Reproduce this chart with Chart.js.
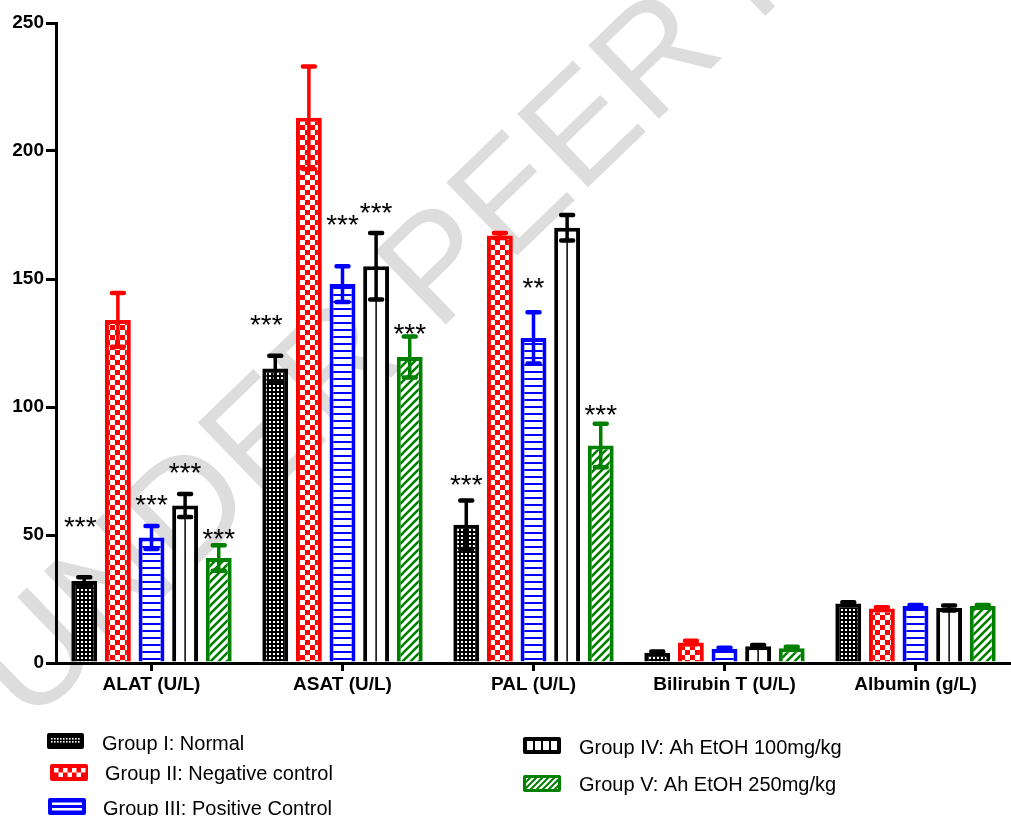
<!DOCTYPE html>
<html>
<head>
<meta charset="utf-8">
<script src="https://cdn.jsdelivr.net/npm/chart.js@4.4.1/dist/chart.umd.min.js"></script>
<style>
  html, body { margin: 0; padding: 0; background: #fff; overflow: hidden; }
  #wrap { width: 1011px; height: 816px; position: relative; }
</style>
</head>
<body>
<div id="wrap"><canvas id="chart" width="1011" height="816"></canvas></div>
<script>
// Serum markers per treatment group (mean and SEM)
const categories = ['ALAT (U/L)', 'ASAT (U/L)', 'PAL (U/L)', 'Bilirubin T (U/L)', 'Albumin (g/L)'];
const groupLabels = [
  'Group I: Normal',
  'Group II: Negative control',
  'Group III: Positive Control',
  'Group IV: Ah EtOH 100mg/kg',
  'Group V: Ah EtOH 250mg/kg'
];

const meanI   = [32,   115,   54,   4,   23.2];
const meanII  = [134,  213,   167,  8,   21.3];
const meanIII = [49,   148,   127,  5.5, 22.3];
const meanIV  = [61.5, 155,   170,  6.5, 21.5];
const meanV   = [41,   119.5, 85,   5.8, 22.3];

const semI   = [1.5,  5,   9.5, 0.5, 0.5];
const semII  = [10.5, 20,  1,   0.7, 0.5];
const semIII = [4.5,  7,   10,  0.5, 0.4];
const semIV  = [4.5,  13,  5,   0.5, 1];
const semV   = [5,    8,   8.5, 0.5, 0.4];

// significance vs. negative control
const marksI   = ['***', '***', '***', '', ''];
const marksII  = ['', '', '', '', ''];
const marksIII = ['***', '***', '**', '', ''];
const marksIV  = ['***', '***', '', '', ''];
const marksV   = ['***', '***', '***', '', ''];

const yTicks = [0, 50, 100, 150, 200, 250];

// ---- fill patterns ----
function tile(w, h, paint) {
  const c = document.createElement('canvas');
  c.width = w; c.height = h;
  paint(c.getContext('2d'), w, h);
  return c;
}
const ctx0 = document.getElementById('chart').getContext('2d');

const dotTile = tile(4, 4, (g) => {
  g.fillStyle = '#000'; g.fillRect(0, 0, 4, 4);
  g.fillStyle = '#fff'; g.fillRect(1, 1, 2, 2);
});
const checkTile = tile(10, 10, (g) => {
  g.fillStyle = '#ff0000'; g.fillRect(0, 0, 10, 10);
  g.fillStyle = '#fff'; g.fillRect(0, 0, 5, 5); g.fillRect(5, 5, 5, 5);
});
const hLineTile = tile(4, 7, (g) => {
  g.fillStyle = '#fff'; g.fillRect(0, 0, 4, 7);
  g.fillStyle = '#0000ff'; g.fillRect(0, 0, 4, 2);
});
const hatchTile = tile(8, 8, (g) => {
  g.fillStyle = '#fff'; g.fillRect(0, 0, 8, 8);
  g.strokeStyle = '#008000'; g.lineWidth = 2.6;
  g.beginPath();
  g.moveTo(-2, 10); g.lineTo(10, -2);
  g.moveTo(-6, 6); g.lineTo(6, -6);
  g.moveTo(2, 14); g.lineTo(14, 2);
  g.stroke();
});

const fills = [
  ctx0.createPattern(dotTile, 'repeat'),
  ctx0.createPattern(checkTile, 'repeat'),
  ctx0.createPattern(hLineTile, 'repeat'),
  '#ffffff',
  ctx0.createPattern(hatchTile, 'repeat')
];
const edgeColors = ['#000000', '#ff0000', '#0000ff', '#000000', '#008000'];

const means = [meanI, meanII, meanIII, meanIV, meanV];
const sems = [semI, semII, semIII, semIV, semV];
const marks = [marksI, marksII, marksIII, marksIV, marksV];

const datasets = means.map((m, i) => ({
  label: groupLabels[i],
  data: m,
  sem: sems[i],
  marks: marks[i],
  centerLine: i === 3,
  backgroundColor: fills[i],
  borderColor: edgeColors[i],
  borderWidth: 4,
  borderSkipped: 'start',
  categoryPercentage: 0.88,
  barPercentage: 0.77
}));

const FONT = '"Liberation Sans", Arial, Helvetica, sans-serif';

// light diagonal review stamp behind the plot
const stampPlugin = {
  id: 'stamp',
  beforeDraw(chart) {
    const ctx = chart.ctx;
    ctx.save();
    ctx.translate(29, 727);
    ctx.rotate(-44 * Math.PI / 180);
    ctx.font = '148px ' + FONT;
    ctx.fillStyle = '#dddddd';
    ctx.textBaseline = 'alphabetic';
    ctx.fillText('UNDER PEER REVIEW', 0, 0);
    ctx.restore();
  }
};

// error bars, centre rule of group IV bars and significance stars
const annotatePlugin = {
  id: 'annotate',
  afterDatasetsDraw(chart, args, opts) {
    const ctx = chart.ctx;
    const ys = chart.scales.y;
    chart.data.datasets.forEach((ds, i) => {
      const meta = chart.getDatasetMeta(i);
      meta.data.forEach((bar, j) => {
        const v = ds.data[j];
        const e = ds.sem[j];
        const x = bar.x;
        ctx.save();
        ctx.strokeStyle = ds.borderColor;
        if (ds.centerLine) {
          ctx.lineWidth = 1.5;
          ctx.beginPath();
          ctx.moveTo(x, bar.base);
          ctx.lineTo(x, bar.y);
          ctx.stroke();
        }
        const top = ys.getPixelForValue(v + e);
        const bot = ys.getPixelForValue(v - e);
        ctx.lineCap = 'round';
        ctx.lineWidth = 3.5;
        ctx.beginPath();
        ctx.moveTo(x, top); ctx.lineTo(x, bot);
        ctx.stroke();
        ctx.lineWidth = 4.5;
        ctx.beginPath();
        ctx.moveTo(x - 6, top); ctx.lineTo(x + 6, top);
        ctx.moveTo(x - 6, bot); ctx.lineTo(x + 6, bot);
        ctx.stroke();
        ctx.restore();

        const mk = ds.marks[j];
        if (mk) {
          const lift = opts.lift[i][j];
          const dx = opts.shift[i][j];
          const size = 28;
          ctx.save();
          ctx.font = size + 'px ' + FONT;
          ctx.fillStyle = '#000';
          ctx.textAlign = 'center';
          ctx.textBaseline = 'alphabetic';
          ctx.fillText(mk, x + dx, top - lift + 0.575 * size);
          ctx.restore();
        }
      });
    });
  }
};

// legend laid out in two columns under the axis
function swatch(ctx, i, x, y, w, h) {
  ctx.save();
  ctx.beginPath();
  ctx.roundRect(x, y, w, h, 2);
  ctx.fillStyle = edgeColors[i];
  ctx.fill();
  ctx.clip();
  ctx.fillStyle = '#fff';
  if (i === 0) {
    for (let px = x + 4; px < x + w - 4; px += 3) {
      for (let py = y + 5; py < y + h - 5; py += 3) {
        ctx.fillRect(px, py, 1.6, 1.6);
      }
    }
  } else if (i === 1) {
    const cell = 4.5;
    for (let c = 0; c < 7; c++) {
      for (let r = 0; r < 2; r++) {
        if ((c + r) % 2 === 0) ctx.fillRect(x + 4 + c * cell, y + 4 + r * cell, cell, cell);
      }
    }
  } else if (i === 2) {
    ctx.fillRect(x + 4, y + 4.5, w - 8, 2.5);
    ctx.fillRect(x + 4, y + 10, w - 8, 2.5);
  } else if (i === 3) {
    const inner = w - 8;
    const cw = (inner - 3 * 2) / 4;
    for (let c = 0; c < 4; c++) ctx.fillRect(x + 4 + c * (cw + 2), y + 4, cw, h - 8);
  } else {
    ctx.beginPath();
    ctx.rect(x + 3, y + 3, w - 6, h - 6);
    ctx.clip();
    ctx.strokeStyle = '#fff';
    ctx.lineWidth = 2.2;
    ctx.beginPath();
    for (let px = x - 10; px < x + w + 10; px += 6) {
      ctx.moveTo(px, y + h); ctx.lineTo(px + h, y);
    }
    ctx.stroke();
  }
  ctx.restore();
}

const legendPlugin = {
  id: 'groupLegend',
  afterDraw(chart, args, opts) {
    const ctx = chart.ctx;
    opts.items.forEach((it, i) => {
      swatch(ctx, i, it.bx, it.by, it.bw, it.bh);
      ctx.save();
      ctx.font = '20px ' + FONT;
      ctx.fillStyle = '#000';
      ctx.textBaseline = 'alphabetic';
      ctx.fillText(chart.data.datasets[i].label, it.tx, it.ty + 7.2);
      ctx.restore();
    });
  }
};

new Chart(document.getElementById('chart'), {
  type: 'bar',
  data: { labels: categories, datasets },
  plugins: [stampPlugin, annotatePlugin, legendPlugin],
  options: {
    responsive: false,
    animation: false,
    layout: { padding: { top: 23, left: 0, right: 0, bottom: 0 } },
    plugins: {
      legend: { display: false },
      tooltip: { enabled: false },
      annotate: {
        lift: [
          [57, 38, 23, 0, 0],
          [0, 0, 0, 0, 0],
          [28, 48, 31, 0, 0],
          [28, 27, 0, 0, 0],
          [13, 10, 16, 0, 0]
        ],
        shift: [
          [-4, -9, 0, 0, 0],
          [0, 0, 0, 0, 0],
          [0, 0, 0, 0, 0],
          [0, 0, 0, 0, 0],
          [0, 0, 0, 0, 0]
        ]
      },
      groupLegend: {
        items: [
          { bx: 47, by: 733, bw: 37, bh: 16, tx: 102, ty: 743 },
          { bx: 50, by: 764, bw: 38, bh: 17, tx: 105, ty: 773 },
          { bx: 48, by: 798, bw: 38, bh: 17, tx: 103, ty: 808 },
          { bx: 523, by: 737, bw: 38, bh: 17, tx: 579, ty: 747 },
          { bx: 523, by: 775, bw: 38, bh: 17, tx: 579, ty: 784 }
        ]
      }
    },
    scales: {
      x: {
        afterFit(scale) { scale.height = 153; },
        grid: {
          display: true, offset: false, drawOnChartArea: false, drawTicks: true,
          tickLength: 8, lineWidth: 3, color: '#000'
        },
        border: { display: true, color: '#000', width: 3 },
        ticks: {
          color: '#000', padding: 2, maxRotation: 0, autoSkip: false,
          font: { family: FONT, size: 19, weight: 'bold' }
        }
      },
      y: {
        min: 0, max: 250,
        afterFit(scale) { scale.width = 56; },
        afterBuildTicks(scale) { scale.ticks = yTicks.map(v => ({ value: v })); },
        grid: {
          display: true, drawOnChartArea: false, drawTicks: true,
          tickLength: 10, lineWidth: 3, color: '#000'
        },
        border: { display: true, color: '#000', width: 3 },
        ticks: {
          color: '#000', padding: 2,
          font: { family: FONT, size: 19, weight: 'bold' }
        }
      }
    }
  }
});
</script>
</body>
</html>
